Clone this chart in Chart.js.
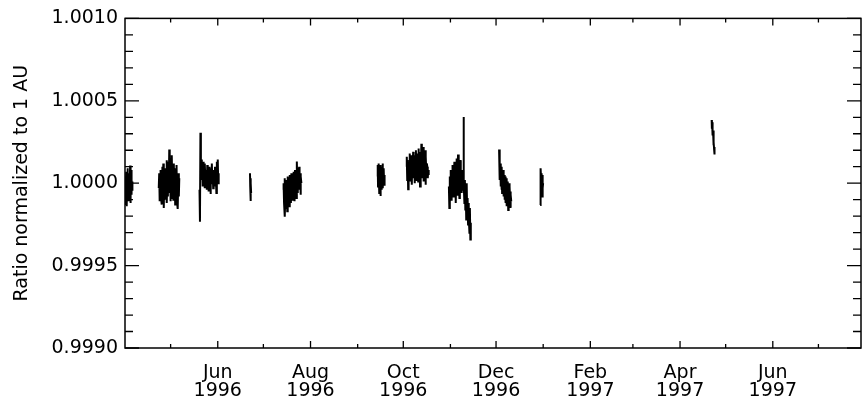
<!DOCTYPE html>
<html>
<head>
<meta charset="utf-8">
<script src="https://cdn.jsdelivr.net/npm/chart.js@4"></script>
<style>
  html, body { margin: 0; padding: 0; background: #fff; }
  #wrap { width: 862px; height: 401px; }
</style>
</head>
<body>
<div id="wrap"><canvas id="ratioChart" width="862" height="401"></canvas></div>
<script>
// x = days since 1 Jan 1996
const monthDays = [152, 213, 274, 335, 397, 456, 517];
const monthLabels = [['Jun', '1996'], ['Aug', '1996'], ['Oct', '1996'], ['Dec', '1996'], ['Feb', '1997'], ['Apr', '1997'], ['Jun', '1997']];
const minorDays = [121, 182, 244, 305, 366, 425, 486, 547];
const yTicks = [0.9990, 0.9995, 1.0000, 1.0005, 1.0010];

// each segment: start day, sample step (days), deviation from 1 in ppm
const segStart = [91.0, 113.2, 140.0, 173.2, 195.0, 257.0, 276.0, 304.0, 337.0, 364.0, 476.8];
const segStep = [0.16, 0.3, 0.3, 0.15, 0.3, 0.2, 0.3, 0.3, 0.2, 0.15, 0.15];
const seg1 = [-20, 40, -132, 30, -60, 70, -100, 10, -140, 50, -30, 90, -70, 20, -110, 60, -40, 0, -90, 40, -60, 108, -120, 30, -50, 80, -20, -70, 20, -40, 10, -30];
const seg2 = [-30, 60, -110, 20, 80, -90, 10, -130, 100, -40, 120, -150, 30, -60, 90, -100, 0, 140, -120, 50, -80, 130, -20, 204, -60, 80, -110, 150, -30, 170, -90, 60, -100, 120, -40, 90, -130, 40, -70, 110, -110, 20, -156, 60, -80, 30];
const seg3 = [-40, -234, 306, 60, 144, 20, 100, -20, 130, 40, 90, -30, 120, 10, 80, 60, -40, 110, 20, 70, -50, 100, 30, 60, -66, 90, 0, 120, 20, 50, -30, 80, 40, -20, 100, 10, 70, -60, 130, 30, 144, 0, 60];
const seg4 = [60, -20, 30, -108, 0, -60];
const seg5 = [-40, 0, -120, 30, -204, -60, 20, -150, -10, -170, 40, -90, -30, -140, 50, -80, 10, -120, 60, -50, -100, 40, -70, 70, -30, -110, 80, -20, 60, -90, 132, 0, -60, 90, -40, 100, -30, 60, -70, 40, 0];
const seg6 = [40, 110, -20, 120, 0, 90, -60, 70, 10, 110, -78, 60, 20, 100, -40, 80, 0, 120, -30, 60, 30, 90, -10, 50, 20];
const seg7 = [100, 160, 20, 140, -36, 120, 40, 180, 10, 150, 60, 170, -10, 130, 80, 190, 30, 150, 0, 170, 70, 200, 20, 140, 90, 180, 10, 210, 60, 160, -20, 190, 40, 240, 30, 170, 80, 220, 10, 150, 70, 200, -10, 160, 60, 120, 100, 30, 80, 50];
const seg8 = [-20, -150, 40, -60, 80, -100, 20, -30, 110, -80, 60, -10, 130, -50, 90, -120, 40, 150, -70, 60, 174, -40, 100, -90, 50, 140, -20, 70, -60, 30, 80, -40, 402, -10, -120, 20, -160, -60, -220, 0, -180, -90, -250, -120, -200, -300, -150, -342, -240];
const seg9 = [204, 60, 150, 20, 120, -20, 90, 40, -40, 100, -60, 60, 0, 80, -80, 30, -30, 50, -100, 20, -60, 40, -120, 0, -80, 30, -140, -20, -60, 10, -162, -40, -100, 0, -130, -20, -90, -50, -150, -70, -110];
const seg10 = [-132, 20, -60, 90, 30, -40, 60, -20, 40, -80, 10, 50, -30, 0];
const seg11 = [384, 330, 370, 310, 350, 290, 320, 260, 280, 230, 250, 200, 220, 174];
const segValues = [seg1, seg2, seg3, seg4, seg5, seg6, seg7, seg8, seg9, seg10, seg11];

const points = [];
segValues.forEach((vals, s) => {
  vals.forEach((v, i) => points.push({ x: segStart[s] + i * segStep[s], y: 1 + v / 1e6 }));
  points.push({ x: segStart[s] + vals.length * segStep[s], y: null }); // gap
});

// inward ticks on all four sides + frame
const frameTicks = {
  id: 'frameTicks',
  afterDraw(chart) {
    const { ctx, chartArea: a, scales: { x, y } } = chart;
    ctx.save();
    ctx.strokeStyle = '#000';
    ctx.lineWidth = 1.5;
    ctx.strokeRect(a.left, a.top, a.right - a.left, a.bottom - a.top);
    ctx.lineWidth = 1.3;
    ctx.beginPath();
    for (let k = 0; k <= 20; k++) {
      const py = y.getPixelForValue(0.999 + k * 0.0001);
      const len = k % 5 === 0 ? 14 : 8;
      ctx.moveTo(a.left, py); ctx.lineTo(a.left + len, py);
      ctx.moveTo(a.right, py); ctx.lineTo(a.right - len, py);
    }
    monthDays.concat(minorDays).forEach((d, i) => {
      const px = x.getPixelForValue(d);
      const len = i < monthDays.length ? 7 : 4;
      ctx.moveTo(px, a.bottom); ctx.lineTo(px, a.bottom - len);
      ctx.moveTo(px, a.top); ctx.lineTo(px, a.top + len);
    });
    ctx.stroke();
    ctx.restore();
  }
};

Chart.defaults.color = '#000';
Chart.defaults.font.family = '"DejaVu Sans", sans-serif';

new Chart(document.getElementById('ratioChart').getContext('2d'), {
  type: 'line',
  data: {
    datasets: [{
      data: points,
      borderColor: '#000',
      borderWidth: 2,
      pointRadius: 0,
      tension: 0,
      spanGaps: false,
      fill: false
    }]
  },
  options: {
    responsive: false,
    animation: false,
    events: [],
    layout: { padding: { top: 14, right: 1, left: 0, bottom: 0 } },
    plugins: { legend: { display: false }, tooltip: { enabled: false } },
    scales: {
      x: {
        type: 'linear',
        min: 91,
        max: 575,
        grid: { display: false, drawTicks: false },
        border: { display: false },
        afterBuildTicks: (scale) => { scale.ticks = monthDays.map(v => ({ value: v })); },
        afterFit: (scale) => { scale.height = 53; },
        ticks: {
          autoSkip: false,
          maxRotation: 0,
          padding: 16,
          font: { size: 19, lineHeight: 0.95 },
          callback: (value, index) => monthLabels[index]
        }
      },
      y: {
        min: 0.999,
        max: 1.001,
        grid: { display: false, drawTicks: false },
        border: { display: false },
        afterBuildTicks: (scale) => { scale.ticks = yTicks.map(v => ({ value: v })); },
        afterFit: (scale) => { scale.width = 125; },
        ticks: {
          padding: 7,
          font: { size: 19 },
          callback: (value) => value.toFixed(4)
        },
        title: {
          display: true,
          text: 'Ratio normalized to 1 AU',
          font: { size: 19 },
          padding: { top: 11, bottom: 0 }
        }
      }
    }
  },
  plugins: [frameTicks]
});
</script>
</body>
</html>
